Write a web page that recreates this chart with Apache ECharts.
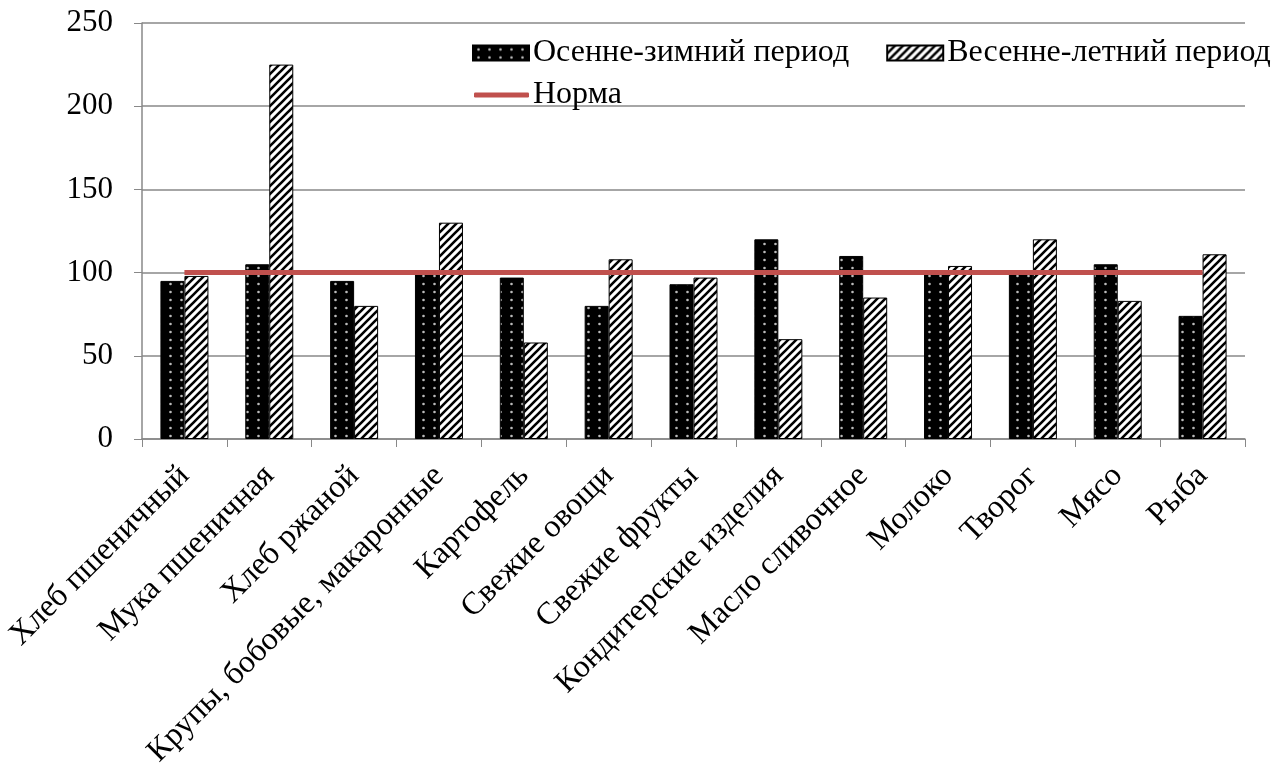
<!DOCTYPE html>
<html>
<head>
<meta charset="utf-8">
<script src="https://cdn.jsdelivr.net/npm/echarts@6/dist/echarts.min.js"></script>
<style>
  html, body { margin: 0; padding: 0; background: #fff; }
  #main { width: 1287px; height: 765px; }
</style>
</head>
<body>
<div id="main"></div>
<script>
// категории продуктов
const categories = ['Хлеб пшеничный', 'Мука пшеничная', 'Хлеб ржаной', 'Крупы, бобовые, макаронные',
  'Картофель', 'Свежие овощи', 'Свежие фрукты', 'Кондитерские изделия', 'Масло сливочное',
  'Молоко', 'Творог', 'Мясо', 'Рыба']
// осенне-зимний период, %
const autumnWinter = [95, 105, 95, 100, 97, 80, 93, 120, 110, 100, 100, 105, 74]
// весенне-летний период, %
const springSummer = [98, 225, 80, 130, 58, 108, 97, 60, 85, 104, 120, 83, 111]
// норма
const norm = [100, 100, 100, 100, 100, 100, 100, 100, 100, 100, 100, 100, 100]
const yTicks = [0, 50, 100, 150, 200, 250]

const font = '"Liberation Serif", "Times New Roman", serif'

// узор: чёрный фон с белыми точками
function dotPattern() {
  let c = document.createElement('canvas')
  c.width = 11; c.height = 8
  let ctx = c.getContext('2d')
  ctx.fillStyle = '#000'
  ctx.fillRect(0, 0, 11, 8)
  ctx.fillStyle = '#bbb'
  ctx.beginPath()
  ctx.arc(5.5, 4, 1.3, 0, Math.PI * 2)
  ctx.fill()
  return c
}
// узор: диагональная штриховка
function hatchPattern() {
  let c = document.createElement('canvas')
  c.width = 8; c.height = 8
  let ctx = c.getContext('2d')
  ctx.fillStyle = '#fff'
  ctx.fillRect(0, 0, 8, 8)
  ctx.strokeStyle = '#000'
  ctx.lineWidth = 2.6
  ctx.beginPath()
  ctx.moveTo(-2, 10); ctx.lineTo(10, -2)
  ctx.moveTo(-6, 6); ctx.lineTo(6, -6)
  ctx.moveTo(2, 14); ctx.lineTo(14, 2)
  ctx.stroke()
  return c
}

let myChart = echarts.init(document.getElementById('main'))
let option = {
  animation: false,
  textStyle: { fontFamily: font, color: '#000' },
  grid: { left: 142, right: 42, top: 23, bottom: 326, containLabel: false, outerBoundsMode: 'none' },
  legend: [{
    data: [
      { name: 'Осенне-зимний период', icon: 'rect' },
      { name: 'Весенне-летний период', icon: 'rect' }
    ],
    left: 467, top: 32,
    itemWidth: 56, itemHeight: 15, itemGap: 37,
    textStyle: { fontFamily: font, fontSize: 32, color: '#000', padding: [0, 0, 0, -1] }
  }, {
    data: [{ name: 'Норма', icon: 'roundRect' }],
    left: 469, top: 74,
    itemWidth: 55, itemHeight: 5,
    textStyle: { fontFamily: font, fontSize: 32, color: '#000', padding: [0, 0, 0, -1] }
  }],
  xAxis: {
    type: 'category',
    data: categories,
    axisLine: { lineStyle: { color: '#888', width: 1.5 } },
    axisTick: { show: true, length: 8, lineStyle: { color: '#888' } },
    axisLabel: { rotate: 45, margin: 32, interval: 0, fontFamily: font, fontSize: 32, color: '#000' }
  },
  yAxis: {
    type: 'value',
    min: yTicks[0], max: yTicks[yTicks.length - 1], interval: 50,
    axisLine: { show: true, lineStyle: { color: '#888', width: 1.5 } },
    axisTick: { show: true, length: 8, lineStyle: { color: '#888' } },
    axisLabel: { margin: 29, fontFamily: font, fontSize: 31, color: '#000' },
    splitLine: { lineStyle: { color: '#888', width: 1.5 } }
  },
  series: [{
    name: 'Осенне-зимний период',
    type: 'bar',
    data: autumnWinter,
    barWidth: 24,
    barGap: '0%',
    itemStyle: { color: { image: dotPattern(), repeat: 'repeat' }, borderColor: '#000', borderWidth: 1 }
  }, {
    name: 'Весенне-летний период',
    type: 'bar',
    data: springSummer,
    barWidth: 24,
    barGap: '0%',
    itemStyle: { color: { image: hatchPattern(), repeat: 'repeat' }, borderColor: '#000', borderWidth: 1 }
  }, {
    name: 'Норма',
    type: 'line',
    data: norm,
    symbol: 'none',
    z: 5,
    lineStyle: { color: '#c0504d', width: 5 },
    itemStyle: { color: '#c0504d' }
  }]
}
myChart.setOption(option)
</script>
</body>
</html>
